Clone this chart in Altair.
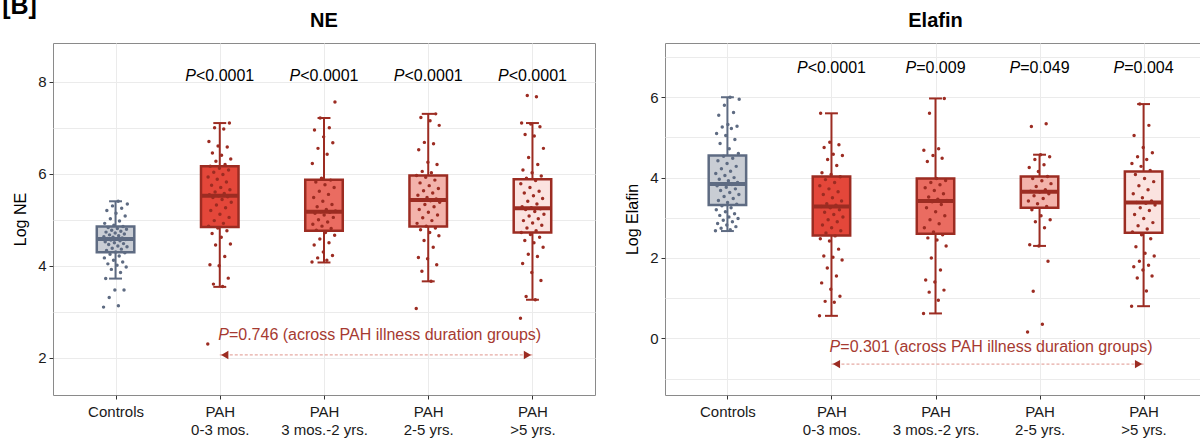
import json
import altair as alt
import pandas as pd

# ---------------- data ----------------
groups = ["Controls", "PAH 0-3 mos.", "PAH 3 mos.-2 yrs.", "PAH 2-5 yrs.", "PAH >5 yrs."]
x_label_lines = [["Controls"], ["PAH", "0-3 mos."], ["PAH", "3 mos.-2 yrs."],
                 ["PAH", "2-5 yrs."], ["PAH", ">5 yrs."]]

# Log NE: individual points per group
ne_controls = [3.10, 3.13, 3.31, 3.47, 3.47, 3.72, 3.85, 3.92, 3.97, 4.01, 4.04, 4.08, 4.12, 4.17,
               4.21, 4.25, 4.28, 4.30, 4.33, 4.36, 4.38, 4.41, 4.43, 4.46, 4.48, 4.50, 4.52, 4.54,
               4.56, 4.57, 4.58, 4.59, 4.60, 4.62, 4.63, 4.65, 4.67, 4.69, 4.71, 4.73, 4.75, 4.77,
               4.79, 4.81, 4.83, 4.85, 4.88, 4.92, 4.97, 5.02, 5.08, 5.14, 5.20, 5.25, 5.30, 5.34, 5.40]
ne_pah_0_3m = [2.30, 3.55, 3.60, 3.73, 4.00, 4.02, 4.20, 4.45, 4.47, 4.62, 4.70, 4.76, 4.82, 4.86,
               4.92, 4.98, 5.05, 5.12, 5.20, 5.26, 5.32, 5.38, 5.44, 5.48, 5.50, 5.52, 5.54, 5.57,
               5.60, 5.65, 5.70, 5.75, 5.82, 5.88, 5.93, 5.98, 6.03, 6.08, 6.12, 6.16, 6.20, 6.27,
               6.32, 6.40, 6.45, 6.58, 6.60, 6.70, 6.97, 7.00, 7.10]
ne_pah_3m_2y = [4.08, 4.12, 4.17, 4.22, 4.30, 4.45, 4.50, 4.58, 4.66, 4.72, 4.77, 4.81, 4.86, 4.90,
                4.95, 5.00, 5.05, 5.10, 5.14, 5.16, 5.17, 5.19, 5.22, 5.28, 5.33, 5.40, 5.48, 5.55,
                5.62, 5.70, 5.76, 5.82, 5.86, 5.90, 6.22, 6.42, 6.55, 6.67, 6.80, 6.95, 7.00, 7.21, 7.56]
ne_pah_2_5y = [3.07, 3.66, 3.88, 4.02, 4.15, 4.18, 4.40, 4.55, 4.65, 4.72, 4.78, 4.82, 4.86, 4.92,
               4.98, 5.04, 5.10, 5.16, 5.22, 5.28, 5.33, 5.38, 5.41, 5.43, 5.45, 5.48, 5.53, 5.58,
               5.63, 5.68, 5.74, 5.80, 5.86, 5.92, 5.96, 6.02, 6.05, 6.20, 6.25, 6.52, 6.65, 6.68,
               7.05, 7.15, 7.22, 7.30]
ne_pah_5y = [2.86, 3.26, 3.33, 3.68, 3.85, 4.05, 4.20, 4.25, 4.40, 4.50, 4.55, 4.62, 4.68, 4.72,
             4.76, 4.82, 4.88, 4.93, 4.98, 5.02, 5.08, 5.12, 5.18, 5.22, 5.24, 5.26, 5.28, 5.34,
             5.40, 5.46, 5.52, 5.58, 5.62, 5.70, 5.78, 5.85, 5.90, 5.95, 6.02, 6.08, 6.20, 6.35,
             6.55, 6.82, 6.85, 7.02, 7.08, 7.10, 7.67, 7.70]

# Log NE box statistics
ne_low = [3.72, 3.54, 4.07, 3.66, 3.26]
ne_q1 = [4.29, 4.84, 4.76, 4.85, 4.72]
ne_median = [4.58, 5.52, 5.17, 5.43, 5.25]
ne_q3 = [4.85, 6.16, 5.87, 5.96, 5.88]
ne_high = [5.40, 7.10, 7.21, 7.30, 7.10]

# Log Elafin: individual points per group
el_controls = [2.68, 2.70, 2.74, 2.78, 2.82, 2.86, 2.90, 2.94, 2.98, 3.02, 3.06, 3.10, 3.15, 3.20,
               3.25, 3.30, 3.34, 3.38, 3.43, 3.48, 3.53, 3.58, 3.63, 3.68, 3.72, 3.76, 3.80, 3.83,
               3.85, 3.88, 3.92, 3.96, 4.00, 4.05, 4.10, 4.16, 4.22, 4.28, 4.35, 4.42, 4.48, 4.53,
               4.60, 4.72, 4.85, 4.95, 5.05, 5.10, 5.22, 5.26, 5.28, 5.32, 5.55, 5.62, 5.80, 5.95, 6.00]
el_pah_0_3m = [0.56, 0.90, 0.92, 1.05, 1.22, 1.38, 1.55, 1.75, 1.95, 2.02, 2.05, 2.22, 2.42, 2.48,
               2.55, 2.62, 2.68, 2.75, 2.82, 2.90, 2.95, 3.02, 3.08, 3.14, 3.20, 3.25, 3.28, 3.31,
               3.35, 3.42, 3.50, 3.58, 3.65, 3.72, 3.80, 3.88, 3.95, 4.02, 4.08, 4.12, 4.30, 4.45,
               4.55, 4.58, 4.75, 4.82, 4.88, 5.60]
el_pah_3m_2y = [0.62, 0.95, 1.15, 1.20, 1.40, 1.45, 1.70, 2.00, 2.30, 2.45, 2.50, 2.58, 2.65, 2.75,
                2.85, 2.95, 3.05, 3.15, 3.25, 3.33, 3.40, 3.43, 3.46, 3.52, 3.60, 3.68, 3.75, 3.82,
                3.88, 3.93, 3.98, 4.40, 4.48, 4.55, 4.68, 4.72, 5.60, 5.97]
el_pah_2_5y = [0.16, 0.35, 1.17, 1.92, 2.30, 2.33, 2.75, 2.90, 2.95, 3.05, 3.20, 3.28, 3.35, 3.42,
               3.48, 3.55, 3.60, 3.64, 3.66, 3.70, 3.78, 3.85, 3.92, 3.98, 4.03, 4.15, 4.25, 4.32,
               4.45, 4.52, 4.57, 5.27, 5.34]
el_pah_5y = [0.80, 1.18, 1.50, 1.55, 1.70, 1.78, 1.82, 1.92, 2.05, 2.12, 2.28, 2.48, 2.58, 2.65,
             2.72, 2.80, 2.88, 2.98, 3.08, 3.18, 3.25, 3.32, 3.36, 3.38, 3.42, 3.50, 3.60, 3.70,
             3.80, 3.90, 3.98, 4.08, 4.18, 4.28, 4.35, 4.45, 4.52, 4.62, 4.75, 5.05, 5.30, 5.83]

# Log Elafin box statistics
el_low = [2.67, 0.56, 0.62, 2.30, 0.80]
el_q1 = [3.32, 2.56, 2.60, 3.25, 2.63]
el_median = [3.84, 3.28, 3.42, 3.65, 3.38]
el_q3 = [4.55, 4.03, 3.98, 4.03, 4.15]
el_high = [6.00, 5.60, 5.97, 4.57, 5.83]

# annotations
ne_p_labels = ["<0.0001", "<0.0001", "<0.0001", "<0.0001"]
el_p_labels = ["<0.0001", "=0.009", "=0.049", "=0.004"]
ne_overall = "=0.746 (across PAH illness duration groups)"
el_overall = "=0.301 (across PAH illness duration groups)"
panel_tag = "[B]"

# ---------------- style ----------------
FONT = "Liberation Sans"
box_fills = ["#c9cdd4", "#e4473a", "#ea6c61", "#f3b3ab", "#fbe3e0"]
line_cols = ["#5e6b82", "#9c2c22", "#9c2c22", "#9c2c22", "#9c2c22"]
ANN_COL = "#a63a31"
GRID = "#ebebeb"

ARIAL = {" ": 278, "(": 333, ")": 333, ".": 278, "<": 584, "=": 584, "A": 667, "H": 722,
         "P": 667, "a": 556, "c": 500, "d": 556, "e": 556, "g": 556, "i": 222, "l": 222,
         "n": 556, "o": 556, "p": 556, "r": 333, "s": 500, "t": 278, "u": 556}


def twidth(s, size):
    return sum(ARIAL.get(ch, 556) for ch in s) / 1000.0 * size


def split_x(center, rest, size, ppu):
    w_p = twidth("P", size)
    total = w_p + twidth(rest, size)
    return center + (-total / 2 + w_p) / ppu


def panel(title, ytitle, ydom, yvals, pts, stats, plabels, p_y, overall, overall_y,
          arrow_y, width, height):
    ppu = width / 5.2
    pos = [1, 2, 3, 4, 5]
    xs = alt.Scale(domain=[0.4, 5.6], nice=False, zero=False)
    ys = alt.Scale(domain=ydom, nice=False, zero=False)
    col = alt.Color("g:N", scale=alt.Scale(domain=groups, range=line_cols), legend=None)
    fil = alt.Fill("g:N", scale=alt.Scale(domain=groups, range=box_fills), legend=None)
    stk = alt.Stroke("g:N", scale=alt.Scale(domain=groups, range=line_cols), legend=None)

    label_expr = json.dumps(x_label_lines) + "[datum.value - 1]"
    xaxis = alt.Axis(values=pos, labelExpr=label_expr, title=None, grid=True, gridColor=GRID,
                     domain=False, tickColor="#333333", tickSize=4, labelFontSize=15,
                     labelColor="#1a1a1a", labelPadding=5, labelLineHeight=18.5, labelFlush=False,
                     labelOverlap=False, labelAlign="center", labelBaseline="top")
    yaxis = alt.Axis(values=yvals, labelExpr="datum.value % 2 === 0 ? datum.label : ''",
                     format="d", grid=True, gridColor=GRID, domain=False, tickSize=4,
                     tickColor={"condition": {"test": "datum.value % 2 === 0", "value": "#333333"},
                                "value": "transparent"},
                     labelFontSize=15, labelColor="#1a1a1a", labelPadding=3, title=ytitle,
                     titleFontSize=16, titleFontWeight="normal", titleColor="#000000",
                     titlePadding=9)

    def X(f):
        return alt.X(f, scale=xs, axis=xaxis)

    def Y(f):
        return alt.Y(f, scale=ys, axis=yaxis)

    lo, q1, med, q3, hi = stats
    half_box, half_cap = 0.18, 0.062
    box = pd.DataFrame({"g": groups, "pos": pos, "lo": lo, "q1": q1, "med": med, "q3": q3, "hi": hi})
    box["bl"] = box["pos"] - half_box
    box["br"] = box["pos"] + half_box
    box["cl"] = box["pos"] - half_cap
    box["cr"] = box["pos"] + half_cap

    rows = []
    for gi, vals in enumerate(pts):
        for i, v in enumerate(vals):
            jit = (((i * 0.6180339887) % 1.0) - 0.5) * 0.23
            rows.append({"g": groups[gi], "val": v, "xj": pos[gi] + jit})
    pdf = pd.DataFrame(rows)

    base = alt.Chart(box)
    whisk = base.mark_rule(strokeWidth=2).encode(x=X("pos:Q"), y=Y("lo:Q"), y2="hi:Q", color=col)
    cap_lo = base.mark_rule(strokeWidth=2).encode(x=X("cl:Q"), x2="cr:Q", y=Y("lo:Q"), color=col)
    cap_hi = base.mark_rule(strokeWidth=2).encode(x=X("cl:Q"), x2="cr:Q", y=Y("hi:Q"), color=col)
    rect = base.mark_rect(strokeWidth=2.5).encode(x=X("bl:Q"), x2="br:Q", y=Y("q1:Q"), y2="q3:Q",
                                                  fill=fil, stroke=stk)
    median = base.mark_rule(strokeWidth=4).encode(x=X("bl:Q"), x2="br:Q", y=Y("med:Q"), color=col)
    points = alt.Chart(pdf).mark_circle(size=12, opacity=1).encode(x=X("xj:Q"), y=Y("val:Q"), color=col)

    pt = pd.DataFrame({"pos": pos[1:], "rest": plabels})
    pt["sx"] = [split_x(p, r, 16, ppu) for p, r in zip(pt["pos"], pt["rest"])]
    pt["py"] = p_y
    pt["P"] = "P"
    p_it = alt.Chart(pt).mark_text(font=FONT, fontSize=16, fontStyle="italic", align="right",
                                   baseline="middle", color="#000000").encode(
        x=X("sx:Q"), y=Y("py:Q"), text="P:N")
    p_rest = alt.Chart(pt).mark_text(font=FONT, fontSize=16, align="left", baseline="middle",
                                     color="#000000").encode(x=X("sx:Q"), y=Y("py:Q"), text="rest:N")

    ov = pd.DataFrame({"rest": [overall], "P": ["P"], "y": [overall_y]})
    ov["sx"] = split_x(3.54, overall, 16, ppu)
    ov_it = alt.Chart(ov).mark_text(font=FONT, fontSize=16, fontStyle="italic", align="right",
                                    baseline="middle", color=ANN_COL).encode(
        x=X("sx:Q"), y=Y("y:Q"), text="P:N")
    ov_rest = alt.Chart(ov).mark_text(font=FONT, fontSize=16, align="left", baseline="middle",
                                      color=ANN_COL).encode(x=X("sx:Q"), y=Y("y:Q"), text="rest:N")

    arr = pd.DataFrame({"x1": [pos[1]], "x2": [pos[-1]], "y": [arrow_y]})
    arrow_line = alt.Chart(arr).mark_rule(color="#e6aaa4", strokeWidth=1.3, strokeDash=[3, 2]).encode(
        x=X("x1:Q"), x2="x2:Q", y=Y("y:Q"))
    head_l = alt.Chart(arr).mark_point(shape="triangle-left", filled=True, size=70, opacity=1,
                                       color="#9c2c22", xOffset=5).encode(x=X("x1:Q"), y=Y("y:Q"))
    head_r = alt.Chart(arr).mark_point(shape="triangle-right", filled=True, size=70, opacity=1,
                                       color="#9c2c22", xOffset=-5).encode(x=X("x2:Q"), y=Y("y:Q"))

    layers = [whisk, cap_lo, cap_hi, rect, median, points, p_it, p_rest, arrow_line,
              head_l, head_r, ov_it, ov_rest]

    return alt.layer(*layers).properties(
        width=width, height=height,
        title=alt.Title(title, fontSize=20, fontWeight="bold", font=FONT, offset=-8,
                        anchor="middle", baseline="bottom", frame="group", color="#000000"))


left = panel("NE", "Log NE", [1.19, 8.84], list(range(2, 9)),
             [ne_controls, ne_pah_0_3m, ne_pah_3m_2y, ne_pah_2_5y, ne_pah_5y],
             (ne_low, ne_q1, ne_median, ne_q3, ne_high), ne_p_labels, 8.12,
             ne_overall, 2.49, 2.06, 542, 352)
right = panel("Elafin", "Log Elafin", [-1.41, 7.35], list(range(-1, 8)),
              [el_controls, el_pah_0_3m, el_pah_3m_2y, el_pah_2_5y, el_pah_5y],
              (el_low, el_q1, el_median, el_q3, el_high), el_p_labels, 6.74,
              el_overall, -0.21, -0.64, 541, 352)

chart = alt.hconcat(left, right, spacing=28).properties(
    title=alt.Title(panel_tag, fontSize=25, fontWeight="bold", font=FONT, anchor="start",
                    baseline="bottom", offset=-33, dx=-10, frame="bounds", color="#000000"),
    padding={"left": 2, "top": -7, "right": -7, "bottom": 0}
).configure(font=FONT).configure_view(stroke="#8a8a8a", strokeWidth=1)

chart.save("out.html", embed_options={"renderer": "svg", "actions": False})
